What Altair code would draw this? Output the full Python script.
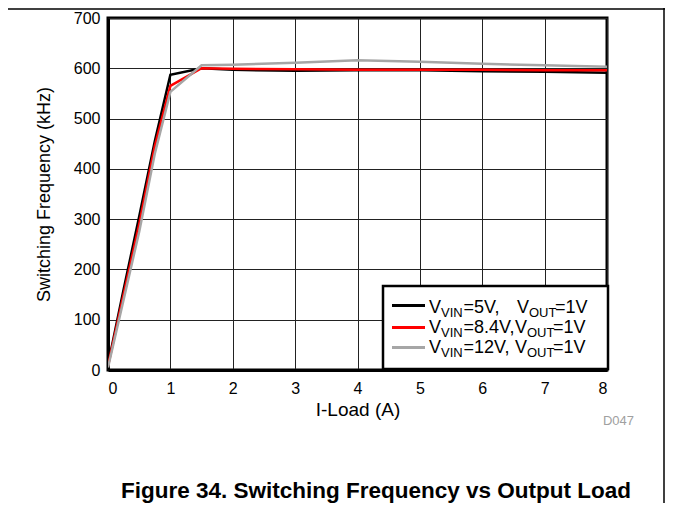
import altair as alt
import pandas as pd

# ---- data ----
load_a = [0, 0.25, 0.5, 0.75, 1, 1.5, 2, 3, 4, 5, 6, 7, 8]
freq_5v = [10, 160, 305, 455, 587, 600, 597, 595, 596, 596, 594, 593, 591]
freq_84v = [8, 150, 290, 445, 565, 600, 599, 598, 597, 597, 597, 596, 596]
freq_12v = [5, 140, 275, 430, 553, 606, 607, 611, 616, 613, 609, 606, 603]
series_names = ["VIN=5V, VOUT=1V", "VIN=8.4V, VOUT=1V", "VIN=12V, VOUT=1V"]
series_colors = ["#000000", "#ff0000", "#a6a6a6"]
legend_vin = ["=5V,", "=8.4V,", "=12V,"]
x_ticks = [0, 1, 2, 3, 4, 5, 6, 7, 8]
y_ticks = [0, 100, 200, 300, 400, 500, 600, 700]

FONT = "Liberation Sans"

rows = []
for name, vals in zip(series_names, [freq_5v, freq_84v, freq_12v]):
    for x, y in zip(load_a, vals):
        rows.append({"load": x, "freq": y, "series": name})
df = pd.DataFrame(rows)

lines = alt.Chart(df).mark_line(strokeWidth=2.5, clip=True).encode(
    x=alt.X(
        "load:Q",
        scale=alt.Scale(domain=[0, 8], nice=False, zero=False),
        axis=alt.Axis(
            values=x_ticks, format="d", title="I-Load (A)",
            grid=True, gridColor="#222222", gridWidth=1,
            ticks=False, tickSize=0, labelPadding=10,
            labelFontSize=16, labelFont=FONT, labelColor="#000000",
            domain=True, domainColor="#000000", domainWidth=3,
            titleFontSize=19, titleFont=FONT, titleFontWeight="normal",
            titleColor="#000000", titleBaseline="alphabetic", titleY=45,
        ),
    ),
    y=alt.Y(
        "freq:Q",
        scale=alt.Scale(domain=[0, 700], nice=False),
        axis=alt.Axis(
            values=y_ticks, format="d", title="Switching Frequency (kHz)",
            grid=True, gridColor="#222222", gridWidth=1,
            ticks=False, tickSize=0, labelPadding=8,
            labelFontSize=16, labelFont=FONT, labelColor="#000000",
            domain=True, domainColor="#000000", domainWidth=3,
            titleFontSize=18, titleFont=FONT, titleFontWeight="normal",
            titleColor="#000000", titleAngle=270, titleBaseline="alphabetic",
            titleAlign="center", titleX=-59, titleY=176,
        ),
    ),
    color=alt.Color("series:N", scale=alt.Scale(domain=series_names, range=series_colors), legend=None),
    detail="series:N",
)

one = pd.DataFrame({"a": [0]})
base = alt.Chart(one)

layers = [lines]

# page frame lines (top and right)
layers.append(base.mark_rule(color="#000000", strokeWidth=1.5).encode(
    x=alt.value(-100), x2=alt.value(557), y=alt.value(-9)))
layers.append(base.mark_rule(color="#000000", strokeWidth=1.5).encode(
    x=alt.value(556), y=alt.value(-10), y2=alt.value(492)))

# legend box
layers.append(base.mark_rect(fill="#ffffff", stroke="#000000", strokeWidth=2.5).encode(
    x=alt.value(275), x2=alt.value(500), y=alt.value(268), y2=alt.value(351)))

row_base = [295, 315, 335]
row_line = [287.5, 309.5, 329.5]
v2_pos = [409, 407, 407]
for i in range(3):
    layers.append(base.mark_rule(color=series_colors[i], strokeWidth=3).encode(
        x=alt.value(284), x2=alt.value(317), y=alt.value(row_line[i])))
    pieces = [
        ("V", 321, 18, 0),
        ("VIN", 333, 13, 4),
        (legend_vin[i], 355.5, 18, 0),
        ("V", v2_pos[i], 18, 0),
        ("OUT", v2_pos[i] + 12, 13, 4),
        ("=1V", v2_pos[i] + 38, 18, 0),
    ]
    for txt, px, fs, dy in pieces:
        layers.append(base.mark_text(
            text=txt, align="left", baseline="alphabetic", font=FONT,
            fontSize=fs, color="#000000").encode(
            x=alt.value(px), y=alt.value(row_base[i] + dy)))

# figure code
layers.append(base.mark_text(
    text="D047", align="right", baseline="alphabetic", font=FONT,
    fontSize=13, color="#a0a0a0").encode(x=alt.value(526), y=alt.value(407)))

# caption
layers.append(base.mark_text(
    text="Figure 34. Switching Frequency vs Output Load", align="center",
    baseline="alphabetic", font=FONT, fontSize=22.5, fontWeight="bold",
    color="#000000").encode(x=alt.value(268), y=alt.value(480)))

chart = alt.layer(*layers).properties(
    width=499, height=352,
    autosize=alt.AutoSizeParams(type="none"),
    padding={"left": 100, "top": 10, "right": 58, "bottom": 133},
    background="#ffffff",
).configure_view(stroke="#000000", strokeWidth=3)

chart.save("out.html", embed_options={"renderer": "svg", "actions": False})
